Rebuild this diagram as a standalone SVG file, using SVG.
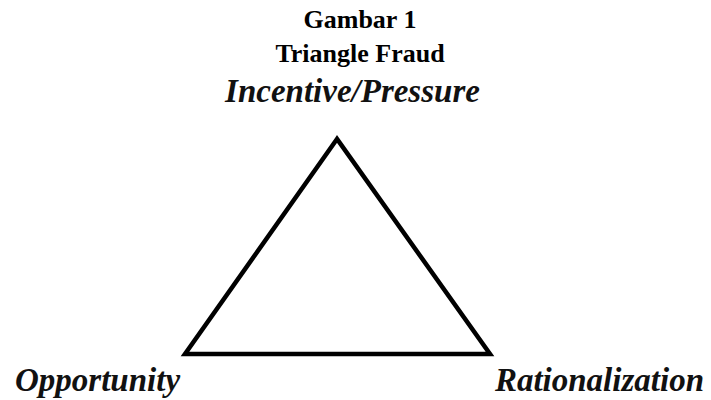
<svg xmlns="http://www.w3.org/2000/svg" width="711" height="400" viewBox="0 0 711 400">
<style>
.title{font-family:"Liberation Serif","Times New Roman",serif;font-weight:bold;font-size:26px;fill:#000;text-anchor:middle}
.lbl{font-family:"Liberation Serif","Times New Roman",serif;font-weight:bold;font-style:italic;font-size:33px;fill:#111}
.tri{fill:none;stroke:#000;stroke-width:4.5;stroke-linejoin:miter}
</style>
<rect width="711" height="400" fill="#fff"/>
<g id="title">
<text class="title" x="360" y="28">Gambar 1</text>
<text class="title" x="360" y="62">Triangle Fraud</text>
</g>
<g id="connectors">
<polygon class="tri" points="337,139 185,354 490,354"/>
</g>
<g id="node-incentive"><text class="lbl" x="352.5" y="102" text-anchor="middle">Incentive/Pressure</text></g>
<g id="node-opportunity"><text class="lbl" x="15" y="391">Opportunity</text></g>
<g id="node-rationalization"><text class="lbl" x="704" y="391" text-anchor="end">Rationalization</text></g>
</svg>
